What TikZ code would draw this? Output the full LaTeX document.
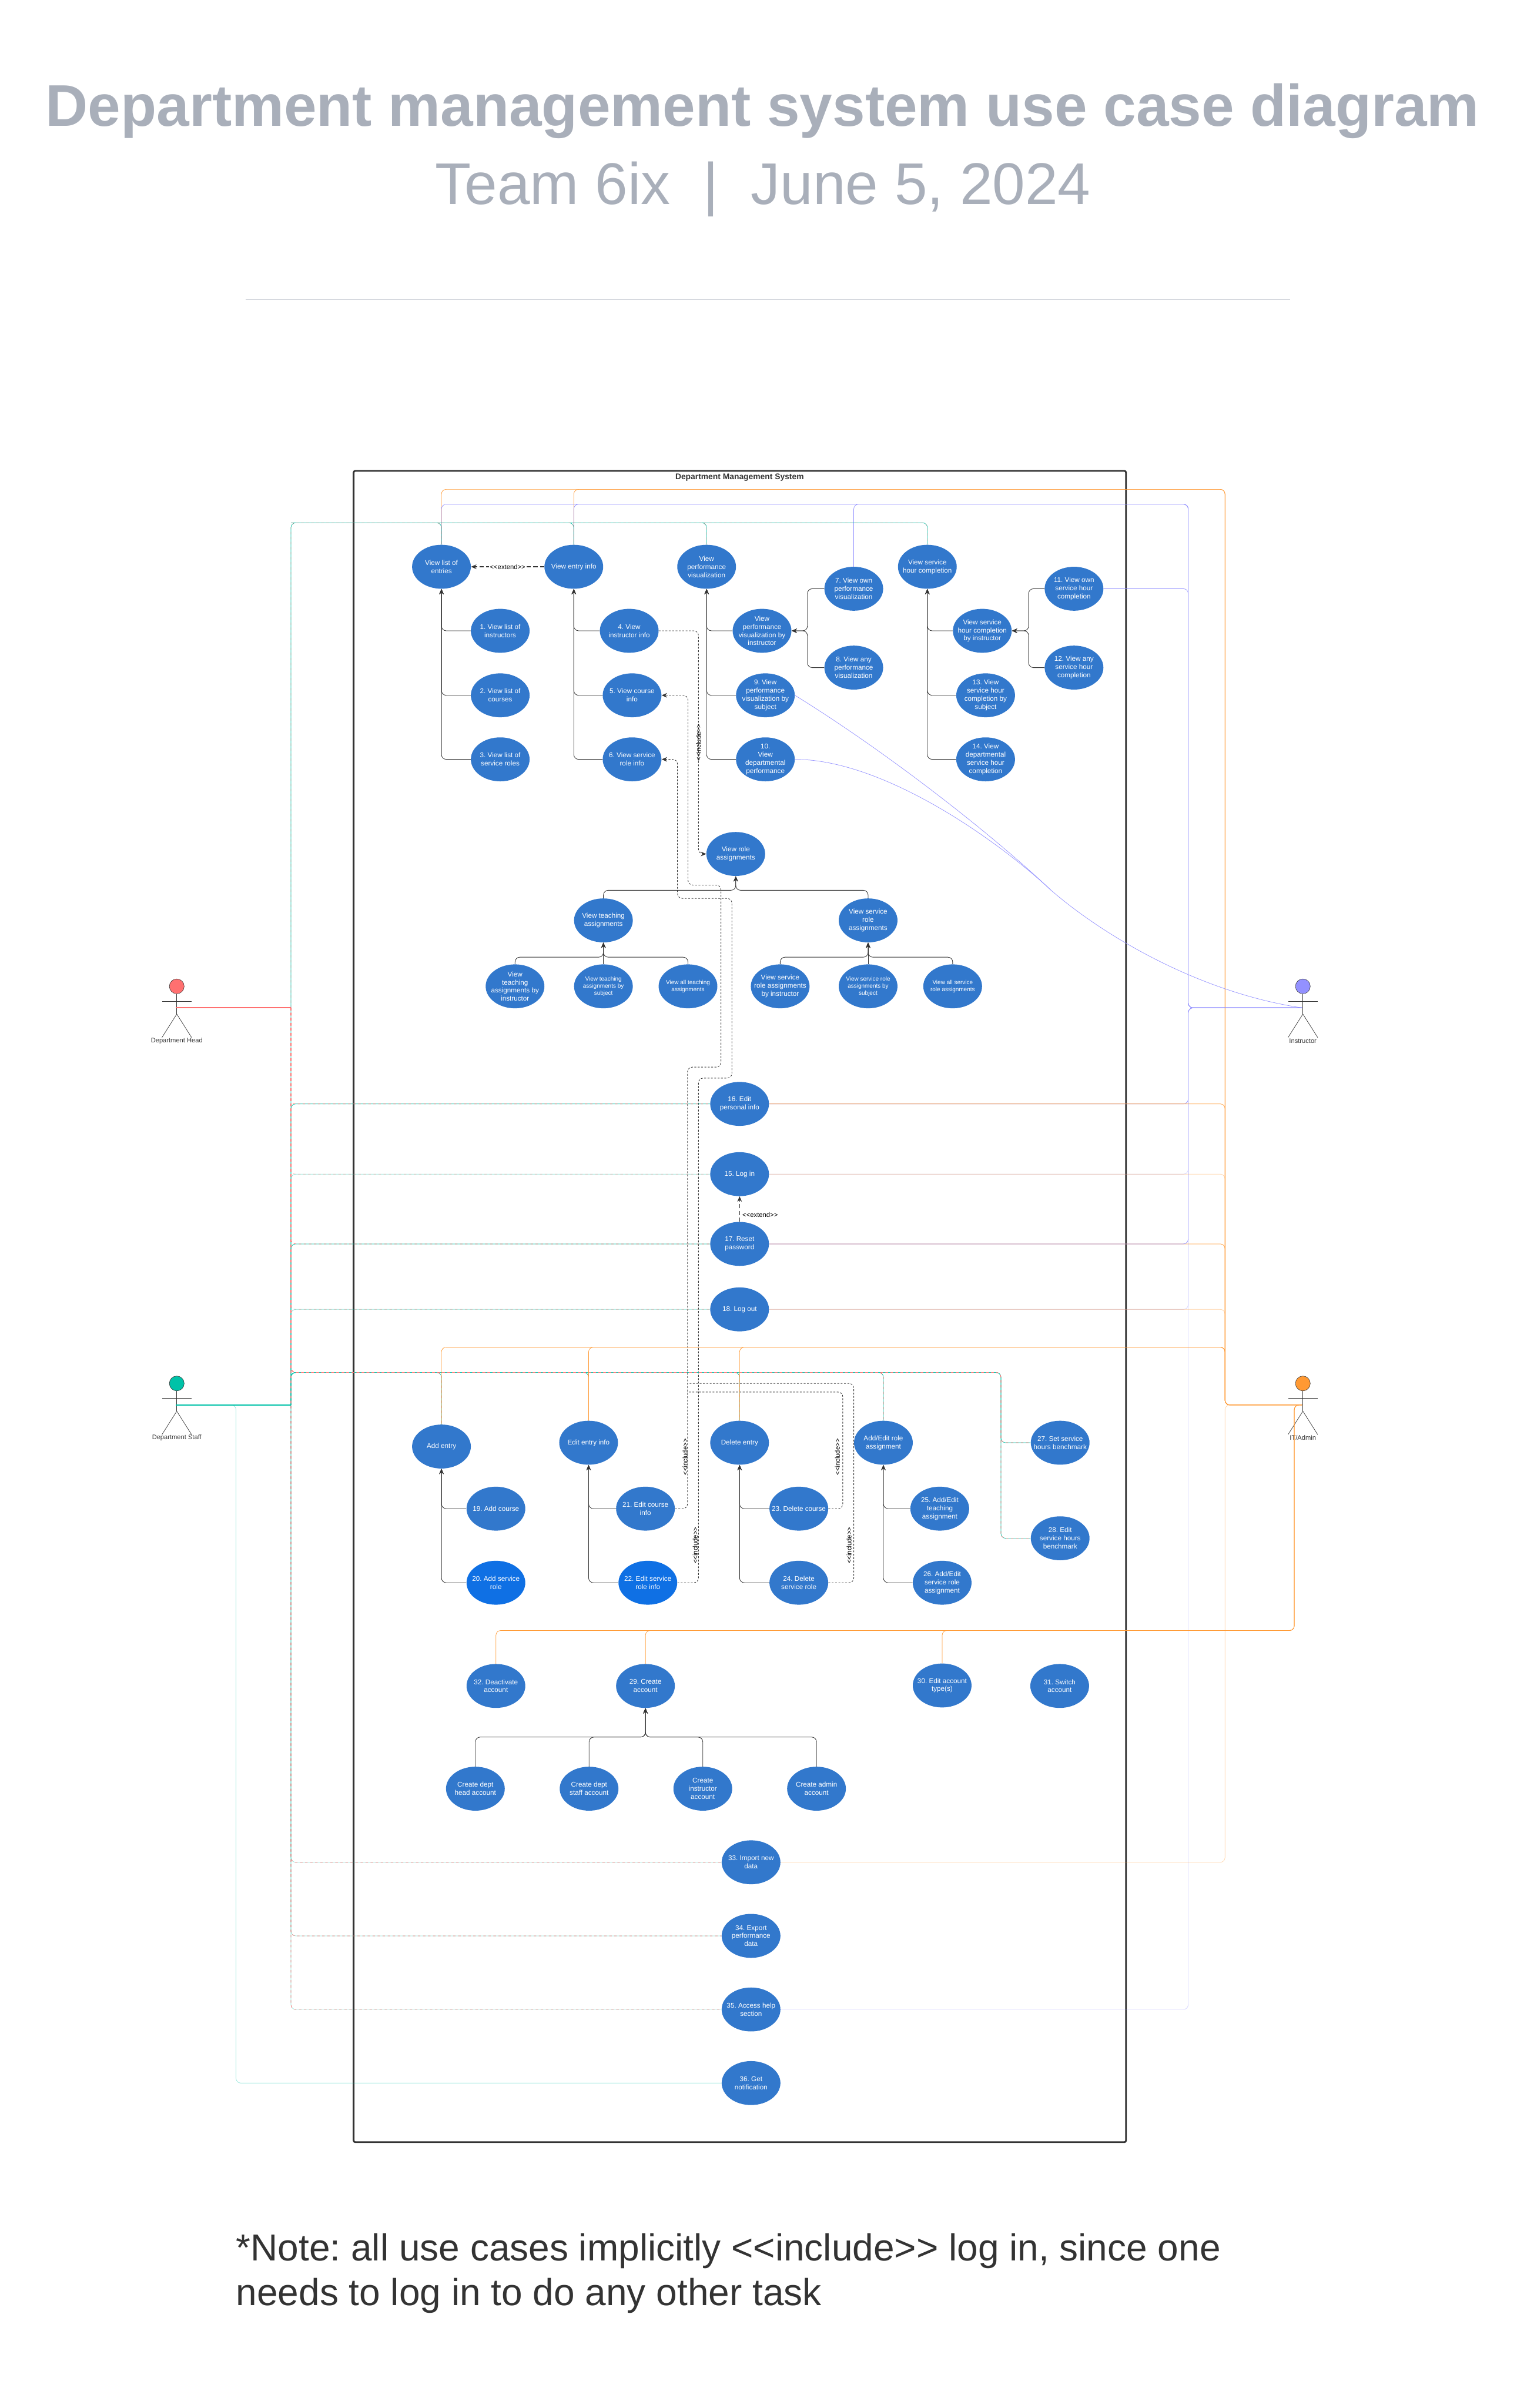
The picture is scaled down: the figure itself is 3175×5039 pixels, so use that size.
\documentclass[tikz,border=0pt]{standalone}
\usepackage{fontspec}
\setmainfont{Liberation Sans}
\frenchspacing
\usetikzlibrary{arrows.meta,shapes.geometric}
\definecolor{ucblue}{HTML}{3278CC}
\definecolor{ucbright}{HTML}{0F70E4}
\definecolor{headred}{HTML}{FF7070}
\definecolor{staffteal}{HTML}{00C2A8}
\definecolor{instrpurple}{HTML}{9391FF}
\definecolor{adminorange}{HTML}{FF9933}
\definecolor{titlegray}{HTML}{A9AFBA}
\definecolor{inkdark}{HTML}{333333}
\tikzset{
  pics/actor/.style 2 args={code={
    \node[draw=inkdark,ellipse,fill=#1,minimum size=0.62cm,inner sep=0pt] (-head) at (0,0) {};
    \coordinate (-hand) at (-2,45);
    \coordinate (-hip) at (0,58);
    \draw[draw=inkdark,line width=0.5pt] (-head.south) -- (-hip) (-31,31) -- (31,31);
    \draw[draw=inkdark,line width=0.5pt] (-31,107) -- (-hip) -- (31,107);
    \node[font=\fontsize{7.8}{9.4}\selectfont,text=inkdark,inner sep=0pt] (-name) at (0,114) {#2};
  }}
}
\begin{document}
\begin{tikzpicture}[x=0.02cm,y=-0.02cm,>={Stealth[length=6.5pt,width=5.5pt]},
  usecase/.style={ellipse,fill=ucblue,text=white,minimum width=2.46cm,minimum height=1.84cm,inner sep=-0.6cm,align=center,font=\fontsize{8.2}{9.7}\selectfont},
  smallcase/.style={usecase,font=\fontsize{7}{8.4}\selectfont},
  gen/.style={draw=inkdark,line width=0.6pt,rounded corners=0.2cm},
  incl/.style={draw=inkdark,line width=0.6pt,rounded corners=0.2cm,dash pattern=on 2.2pt off 1.8pt},
  ext/.style={draw=inkdark,line width=0.9pt,dash pattern=on 5pt off 3pt},
  inclabel/.style={rotate=90,inner sep=0pt,font=\fontsize{7.9}{9.7}\selectfont},
  extlabel/.style={inner sep=1pt,font=\fontsize{7.9}{9.7}\selectfont},
  stafflink/.style={draw=staffteal,line width=0.5pt,rounded corners=0.2cm},
  headlink/.style={draw=headred,line width=0.5pt,rounded corners=0.2cm,dash pattern=on 3pt off 3pt},
  instrlink/.style={draw=instrpurple,line width=0.5pt,rounded corners=0.2cm},
  adminlink/.style={draw=adminorange,line width=0.5pt,rounded corners=0.2cm},
  faint/.style={opacity=0.45}]
\useasboundingbox (0,0) rectangle (3175,5039);

\node[text=titlegray,font=\fontsize{70}{80}\bfseries\selectfont] (title) at (1596,232) {Department management system use case diagram};
\node[text=titlegray,font=\fontsize{70}{80}\selectfont] (subtitle) at (1597,396) {Team 6ix \ |\ \ June 5, 2024};
\coordinate (ruleL) at (514,627);
\coordinate (ruleR) at (2700,627);
\draw[draw=titlegray!50,line width=0.8pt] (ruleL) -- (ruleR);
\node[draw=inkdark,line width=2pt,rounded corners=2pt,minimum width=32.34cm,minimum height=69.96cm] (sys) at (1548.5,2734) {};
\node[text=inkdark,font=\fontsize{9.7}{11}\bfseries\selectfont] (systitle) at (1548,999) {Department Management System};
\node[anchor=north west,align=left,inner sep=0pt,text=inkdark,font=\fontsize{44.8}{53.5}\selectfont] (note) at (494,4673) {*Note: all use cases implicitly <{}<include>{}> log in, since one\\needs to log in to do any other task};

\pic (dh) at (370,2064) {actor={headred}{Department Head}};
\pic (ds) at (370,2895) {actor={staffteal}{Department Staff}};
\pic (in) at (2727,2064) {actor={instrpurple}{Instructor}};
\pic (it) at (2727,2895) {actor={adminorange}{IT/Admin}};
\coordinate (lrail) at (609,1094);
\coordinate (lmid) at (609,2872);
\coordinate (srail) at (494,4359);
\coordinate (rrail) at (2095,2872);
\coordinate (prail) at (2487,1055);
\coordinate (orail) at (2564,1024);
\coordinate (omid) at (2564,2819);
\coordinate (obot) at (2709,3412);

\node[usecase] (list) at (924,1186) {View list of\\entries};
\node[usecase] (entry) at (1201,1186) {View entry info};
\node[usecase] (perf) at (1479,1186) {View\\performance\\visualization};
\node[usecase] (hrs) at (1941,1186) {View service\\hour completion};
\node[usecase] (u1) at (1047,1320) {1. View list of\\instructors};
\node[usecase] (u2) at (1047,1455) {2. View list of\\courses};
\node[usecase] (u3) at (1047,1589) {3. View list of\\service roles};
\node[usecase] (u4) at (1317,1320) {4. View\\instructor info};
\node[usecase] (u5) at (1323,1455) {5. View course\\info};
\node[usecase] (u6) at (1323,1589) {6. View service\\role info};
\node[usecase] (vpi) at (1595,1320) {View\\performance\\visualization by\\instructor};
\node[usecase] (u7) at (1787,1232) {7. View own\\performance\\visualization};
\node[usecase] (u8) at (1787,1397) {8. View any\\performance\\visualization};
\node[usecase] (u9) at (1602,1455) {9. View\\performance\\visualization by\\subject};
\node[usecase] (u10) at (1602,1589) {10.\\View\\departmental\\performance};
\node[usecase] (vsi) at (2056,1320) {View service\\hour completion\\by instructor};
\node[usecase] (u11) at (2248,1232) {11. View own\\service hour\\completion};
\node[usecase] (u12) at (2248,1397) {12. View any\\service hour\\completion};
\node[usecase] (u13) at (2063,1455) {13. View\\service hour\\completion by\\subject};
\node[usecase] (u14) at (2063,1589) {14. View\\departmental\\service hour\\completion};

\node[usecase] (role) at (1540,1787) {View role\\assignments};
\node[usecase] (tt) at (1263,1926) {View teaching\\assignments};
\node[usecase] (sr) at (1817,1926) {View service\\role\\assignments};
\node[usecase] (tt1) at (1078,2064) {View\\teaching\\assignments by\\instructor};
\node[smallcase] (tt2) at (1263,2064) {View teaching\\assignments by\\subject};
\node[smallcase] (tt3) at (1440,2064) {View all teaching\\assignments};
\node[usecase] (sr1) at (1633,2064) {View service\\role assignments\\by instructor};
\node[smallcase] (sr2) at (1817,2064) {View service role\\assignments by\\subject};
\node[smallcase] (sr3) at (1994,2064) {View all service\\role assignments};
\coordinate (rolejoin) at (1540,1863);
\coordinate (ttjoin) at (1263,2003);
\coordinate (srjoin) at (1817,2003);

\node[usecase] (u16) at (1548,2310) {16. Edit\\personal info};
\node[usecase] (u15) at (1548,2457) {15. Log in};
\node[usecase] (u17) at (1548,2603) {17. Reset\\password};
\node[usecase] (u18) at (1548,2740) {18. Log out};

\node[usecase] (add) at (924,3027) {Add entry};
\node[usecase] (edit) at (1232,3019) {Edit entry info};
\node[usecase] (del) at (1548,3019) {Delete entry};
\node[usecase] (arole) at (1849,3019) {Add/Edit role\\assignment};
\node[usecase] (u27) at (2219,3019) {27. Set service\\hours benchmark};
\node[usecase] (u28) at (2219,3219) {28. Edit\\service hours\\benchmark};
\node[usecase] (u19) at (1038,3157) {19. Add course};
\node[usecase,fill=ucbright] (u20) at (1038,3312) {20. Add service\\role};
\node[usecase] (u21) at (1351,3157) {21. Edit course\\info};
\node[usecase,fill=ucbright] (u22) at (1356,3312) {22. Edit service\\role info};
\node[usecase] (u23) at (1672,3157) {23. Delete course};
\node[usecase] (u24) at (1672,3312) {24. Delete\\service role};
\node[usecase] (u25) at (1967,3157) {25. Add/Edit\\teaching\\assignment};
\node[usecase] (u26) at (1972,3312) {26. Add/Edit\\service role\\assignment};

\node[usecase] (u32) at (1038,3528) {32. Deactivate\\account};
\node[usecase] (u29) at (1351,3528) {29. Create\\account};
\node[usecase] (u30) at (1972,3527) {30. Edit account\\type(s)};
\node[usecase] (u31) at (2218,3528) {31. Switch\\account};
\node[usecase] (cd1) at (995,3743) {Create dept\\head account};
\node[usecase] (cd2) at (1233,3743) {Create dept\\staff account};
\node[usecase] (cd3) at (1471,3743) {Create\\instructor\\account};
\node[usecase] (cd4) at (1709,3743) {Create admin\\account};
\coordinate (cdjoin) at (1351,3635);
\node[usecase] (u33) at (1572,3897) {33. Import new\\data};
\node[usecase] (u34) at (1572,4051) {34. Export\\performance\\data};
\node[usecase] (u35) at (1572,4205) {35. Access help\\section};
\node[usecase] (u36) at (1572,4359) {36. Get\\notification};

\draw[gen,->] (u1.west) -| (list.south);
\draw[gen,->] (u2.west) -| (list.south);
\draw[gen,->] (u3.west) -| (list.south);
\draw[gen,->] (u4.west) -| (entry.south);
\draw[gen,->] (u5.west) -| (entry.south);
\draw[gen,->] (u6.west) -| (entry.south);
\draw[gen,->] (vpi.west) -| (perf.south);
\draw[gen,->] (u9.west) -| (perf.south);
\draw[gen,->] (u10.west) -| (perf.south);
\coordinate (vpijoin) at (1690,1320);
\draw[gen,->] (u7.west) -| (vpijoin) -- (vpi.east);
\draw[gen,->] (u8.west) -| (vpijoin) -- (vpi.east);
\draw[gen,->] (vsi.west) -| (hrs.south);
\draw[gen,->] (u13.west) -| (hrs.south);
\draw[gen,->] (u14.west) -| (hrs.south);
\coordinate (vsijoin) at (2153,1320);
\draw[gen,->] (u11.west) -| (vsijoin) -- (vsi.east);
\draw[gen,->] (u12.west) -| (vsijoin) -- (vsi.east);

\draw[gen,->] (tt.north) |- (rolejoin) -- (role.south);
\draw[gen,->] (sr.north) |- (rolejoin) -- (role.south);
\draw[gen,->] (tt1.north) |- (ttjoin) -- (tt.south);
\draw[gen,->] (tt2.north) -- (tt.south);
\draw[gen,->] (tt3.north) |- (ttjoin) -- (tt.south);
\draw[gen,->] (sr1.north) |- (srjoin) -- (sr.south);
\draw[gen,->] (sr2.north) -- (sr.south);
\draw[gen,->] (sr3.north) |- (srjoin) -- (sr.south);

\draw[gen,->] (u19.west) -| (add.south);
\draw[gen,->] (u20.west) -| (add.south);
\draw[gen,->] (u21.west) -| (edit.south);
\draw[gen,->] (u22.west) -| (edit.south);
\draw[gen,->] (u23.west) -| (del.south);
\draw[gen,->] (u24.west) -| (del.south);
\draw[gen,->] (u25.west) -| (arole.south);
\draw[gen,->] (u26.west) -| (arole.south);
\draw[gen,->] (cd1.north) |- (cdjoin) -- (u29.south);
\draw[gen,->] (cd2.north) |- (cdjoin) -- (u29.south);
\draw[gen,->] (cd3.north) |- (cdjoin) -- (u29.south);
\draw[gen,->] (cd4.north) |- (cdjoin) -- (u29.south);

\draw[ext,->] (entry.west) -- (list.east) node[midway,fill=white,extlabel] (ext1) {<{}<extend>{}>};
\draw[ext,line width=0.6pt,->] (u17.north) -- (u15.south);
\node[extlabel] (ext2) at (1591,2542) {<{}<extend>{}>};

\coordinate (a1) at (1439,2233);
\coordinate (a2) at (1509,1852);
\coordinate (a3) at (1440,1455);
\coordinate (b1) at (1462,2256);
\coordinate (b2) at (1532,1880);
\coordinate (b3) at (1418,1589);
\coordinate (c1) at (1764,2913);
\coordinate (c2) at (1439,2913);
\coordinate (d1) at (1787,2895);
\coordinate (d2) at (1439,2895);
\coordinate (e1) at (1462,1787);
\draw[incl,->] (u21.east) -| (a1) -| (a2) -| (a3) -- (u5.east);
\draw[incl,->] (u22.east) -| (b1) -| (b2) -| (b3) -- (u6.east);
\draw[incl] (u23.east) -| (c1) -- (c2);
\draw[incl] (u24.east) -| (d1) -- (d2);
\draw[incl,->] (u4.east) -| (e1) -- (role.west);
\node[inclabel] (inc1) at (1462,1554) {<{}<include>{}>};
\node[inclabel] (inc2) at (1434,3049) {<{}<include>{}>};
\node[inclabel] (inc3) at (1455,3234) {<{}<include>{}>};
\node[inclabel] (inc4) at (1753,3049) {<{}<include>{}>};
\node[inclabel] (inc5) at (1777,3234) {<{}<include>{}>};

\draw[adminlink] (it-hand) -| (orail) -| (list.north);
\draw[adminlink] (it-hand) -| (orail) -| (entry.north);
\draw[instrlink] (in-hand) -| (prail) -| (list.north);
\draw[instrlink] (in-hand) -| (prail) -| (entry.north);
\draw[instrlink] (in-hand) -| (prail) -| (u7.north);
\draw[instrlink] (in-hand) -| (prail |- u11) -- (u11.east);
\draw[stafflink] (lrail |- ds-hand) -- (lrail) -| (list.north) (lrail) -| (entry.north) (lrail) -| (perf.north) (lrail) -| (hrs.north);
\draw[draw=staffteal,line width=1pt] (ds-hand) -- (lrail |- ds-hand);
\draw[headlink,faint] (lrail |- dh-hand) -- (lrail) -| (list.north) (lrail) -| (entry.north) (lrail) -| (perf.north) (lrail) -| (hrs.north);
\draw[draw=headred,line width=1.3pt] (dh-hand) -- (lrail |- dh-hand);

\coordinate (curvemid) at (2200,1863);
\draw[instrlink,rounded corners=0pt] (u9.east) .. controls (1850,1570) and (2070,1740) .. (curvemid) .. controls (2300,1950) and (2500,2075) .. (in-hand);
\draw[instrlink,rounded corners=0pt] (u10.east) .. controls (1850,1589) and (2090,1760) .. (curvemid);

\draw[instrlink] (in-hand) -| (prail |- u16) -- (u16.east);
\draw[adminlink] (it-hand) -| (orail |- u16) -- (u16.east);
\draw[instrlink,faint] (in-hand) -| (prail |- u15) -- (u15.east);
\draw[adminlink,faint] (it-hand) -| (orail |- u15) -- (u15.east);
\draw[adminlink] (it-hand) -| (orail |- u17) -- (u17.east);
\draw[instrlink] (in-hand) -| (prail |- u17) -- (u17.east);
\draw[instrlink,faint] (in-hand) -| (prail |- u18) -- (u18.east);
\draw[adminlink,faint] (it-hand) -| (orail |- u18) -- (u18.east);
\draw[adminlink,faint] (it-hand) -| (orail |- u33) -- (u33.east);
\draw[instrlink,faint] (in-hand) -| (prail |- u35) -- (u35.east);

\draw[stafflink] (lrail |- ds-hand) |- (u16.west);
\draw[headlink] (lrail |- dh-hand) |- (u16.west);
\draw[stafflink,faint] (lrail |- ds-hand) |- (u15.west);
\draw[headlink,faint] (lrail |- dh-hand) |- (u15.west);
\draw[stafflink] (lrail |- ds-hand) |- (u17.west);
\draw[headlink] (lrail |- dh-hand) |- (u17.west);
\draw[stafflink,faint] (lrail |- ds-hand) |- (u18.west);
\draw[headlink,faint] (lrail |- dh-hand) |- (u18.west);

\draw[stafflink] (lrail |- ds-hand) -- (lmid) -| (add.north);
\draw[stafflink] (lrail |- ds-hand) -- (lmid) -| (edit.north);
\draw[stafflink] (lrail |- ds-hand) -- (lmid) -| (del.north);
\draw[stafflink] (lrail |- ds-hand) -- (lmid) -| (arole.north);
\draw[stafflink] (lrail |- ds-hand) -- (lmid) -- (rrail) |- (u27.west);
\draw[stafflink] (lrail |- ds-hand) -- (lmid) -- (rrail) |- (u28.west);
\draw[headlink] (lrail |- dh-hand) -- (lmid) -| (add.north);
\draw[headlink] (lrail |- dh-hand) -- (lmid) -| (edit.north);
\draw[headlink] (lrail |- dh-hand) -- (lmid) -| (del.north);
\draw[headlink] (lrail |- dh-hand) -- (lmid) -| (arole.north);
\draw[headlink] (lrail |- dh-hand) -- (lmid) -- (rrail) |- (u27.west);
\draw[headlink] (lrail |- dh-hand) -- (lmid) -- (rrail) |- (u28.west);
\draw[adminlink] (it-hand) -| (omid) -| (add.north);
\draw[adminlink] (it-hand) -| (omid) -| (edit.north);
\draw[adminlink] (it-hand) -| (omid) -| (del.north);

\draw[adminlink] (it-hand) -| (obot) -| (u30.north);
\draw[adminlink] (it-hand) -| (obot) -| (u29.north);
\draw[adminlink] (it-hand) -| (obot) -| (u32.north);

\draw[stafflink,faint] (lrail |- ds-hand) |- (u33.west);
\draw[headlink] (lrail |- dh-hand) |- (u33.west);
\draw[stafflink,faint] (lrail |- ds-hand) |- (u34.west);
\draw[headlink] (lrail |- dh-hand) |- (u34.west);
\draw[stafflink,faint] (lrail |- ds-hand) |- (u35.west);
\draw[headlink] (lrail |- dh-hand) |- (u35.west);
\draw[stafflink,faint] (ds-hand) -| (srail) -- (u36.west);
\end{tikzpicture}
\end{document}
